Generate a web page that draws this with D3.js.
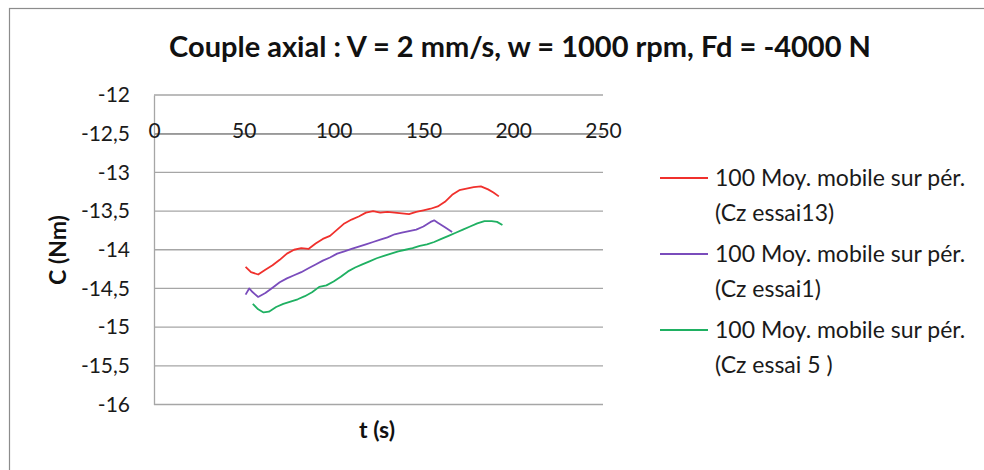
<!DOCTYPE html>
<html><head><meta charset="utf-8">
<script src="https://cdn.jsdelivr.net/npm/d3@7"></script>
<style>html,body{margin:0;padding:0;background:#fff;}svg{display:block;}</style>
</head><body>
<svg id="c" width="984" height="470"></svg>
<script>
const title = "Couple axial : V = 2 mm/s, w = 1000 rpm, Fd = -4000 N";
const xTicks = [0, 50, 100, 150, 200, 250];
const yTicks = [-12, -12.5, -13, -13.5, -14, -14.5, -15, -15.5, -16];
const legendLine1 = ["100 Moy. mobile sur pér.", "100 Moy. mobile sur pér.", "100 Moy. mobile sur pér."];
const legendLine2 = ["(Cz essai13)", "(Cz essai1)", "(Cz essai 5 )"];
const colors = ["#f0302c", "#7a4cbc", "#1fb062"];

const t13 = [51,54,58,62,66,70,74,78,82,86,90,94,98,102,106,110,114,118,122,126,130,134,138,142,146,150,154,158,162,166,170,174,178,182,186,189,192];
const c13 = [-14.22,-14.29,-14.32,-14.26,-14.20,-14.13,-14.05,-14.00,-13.98,-13.99,-13.92,-13.86,-13.82,-13.74,-13.66,-13.61,-13.57,-13.52,-13.50,-13.52,-13.51,-13.52,-13.53,-13.54,-13.51,-13.49,-13.47,-13.44,-13.38,-13.29,-13.23,-13.21,-13.19,-13.18,-13.22,-13.26,-13.31];
const t1 = [51,53,55,58,62,66,70,74,78,82,86,90,94,98,102,106,110,114,118,122,126,130,134,138,142,146,150,154,156,158,162,166];
const c1 = [-14.58,-14.50,-14.55,-14.61,-14.56,-14.49,-14.42,-14.37,-14.33,-14.29,-14.24,-14.19,-14.14,-14.10,-14.05,-14.02,-13.99,-13.96,-13.93,-13.90,-13.87,-13.84,-13.80,-13.78,-13.76,-13.74,-13.70,-13.64,-13.62,-13.65,-13.71,-13.77];
const t5 = [55,58,61,64,68,72,76,80,84,88,92,96,100,104,108,112,116,120,124,128,132,136,140,144,148,152,156,160,164,168,172,176,180,184,188,191,194];
const c5 = [-14.70,-14.77,-14.81,-14.80,-14.74,-14.70,-14.67,-14.64,-14.60,-14.55,-14.48,-14.46,-14.41,-14.35,-14.28,-14.23,-14.19,-14.15,-14.11,-14.08,-14.05,-14.02,-14.00,-13.98,-13.95,-13.93,-13.90,-13.86,-13.82,-13.78,-13.74,-13.70,-13.66,-13.63,-13.63,-13.64,-13.68];

const series = [
  {t: t13, c: c13},
  {t: t1, c: c1},
  {t: t5, c: c5}
];

const font = "Lato, 'Open Sans', sans-serif";
const svg = d3.select("#c");

// chart frame
svg.append("rect").attr("x", 9.5).attr("y", 8.5).attr("width", 1000).attr("height", 500)
  .attr("fill", "none").attr("stroke", "#8c8c8c").attr("stroke-width", 1.2);

const x = d3.scaleLinear().domain([0, 250]).range([154, 603]);
const y = d3.scaleLinear().domain([-16, -12]).range([404.5, 95]);
const fmt = d => String(d).replace(".", ",");

// gridlines
svg.append("g").selectAll("line").data(yTicks).join("line")
  .attr("x1", x(0)).attr("x2", x(250))
  .attr("y1", d => y(d)).attr("y2", d => y(d))
  .attr("stroke", "#a6a6a6").attr("stroke-width", 1.3);

// y axis
const yAxis = svg.append("g").attr("transform", `translate(${x(0)},0)`)
  .call(d3.axisLeft(y).tickValues(yTicks).tickFormat(fmt).tickSize(0).tickPadding(24));
yAxis.select(".domain").attr("stroke", "#a6a6a6").attr("stroke-width", 1.3);
yAxis.selectAll("text").attr("font-family", font).attr("font-size", 21).attr("fill", "#1a1a1a");

// x axis crossing at -12.5
const xAxis = svg.append("g").attr("transform", `translate(0,${y(-12.5)})`)
  .call(d3.axisBottom(x).tickValues(xTicks).tickFormat(d3.format("d")).tickSize(0));
xAxis.select(".domain").attr("stroke", "#8c8c8c").attr("stroke-width", 1.3);
xAxis.selectAll("text").attr("font-family", font).attr("font-size", 21).attr("fill", "#1a1a1a")
  .attr("y", 4).attr("dy", 0);

// lines
const line = d3.line().x(d => x(d[0])).y(d => y(d[1]));
series.forEach((s, i) => {
  svg.append("path").datum(s.t.map((tv, j) => [tv, s.c[j]]))
    .attr("d", line).attr("fill", "none").attr("stroke", colors[i]).attr("stroke-width", 1.8)
    .attr("stroke-linejoin", "round");
});

// title
svg.append("text").attr("x", 520).attr("y", 57).attr("text-anchor", "middle")
  .attr("font-family", font).attr("font-weight", "bold").attr("font-size", 29).attr("fill", "#111").text(title);

// axis titles
svg.append("text").attr("transform", "translate(57.5,250) rotate(-90)").attr("text-anchor", "middle")
  .attr("dy", "0.35em")
  .attr("font-family", font).attr("font-weight", "bold").attr("font-size", 23).attr("fill", "#111").text("C (Nm)");
svg.append("text").attr("x", 377).attr("y", 430).attr("text-anchor", "middle").attr("dy", "0.35em")
  .attr("font-family", font).attr("font-weight", "bold").attr("font-size", 23).attr("fill", "#111").text("t (s)");

// legend
const lg = svg.append("g");
const ly = [178, 254, 330];
legendLine1.forEach((n, i) => {
  lg.append("line").attr("x1", 660).attr("x2", 708).attr("y1", ly[i]).attr("y2", ly[i])
    .attr("stroke", colors[i]).attr("stroke-width", 1.8);
  lg.append("text").attr("x", 715).attr("y", ly[i]).attr("dy", "0.35em")
    .attr("font-family", font).attr("font-size", 23).attr("fill", "#1a1a1a").text(legendLine1[i]);
  lg.append("text").attr("x", 715).attr("y", ly[i] + 35).attr("dy", "0.35em")
    .attr("font-family", font).attr("font-size", 23).attr("fill", "#1a1a1a").text(legendLine2[i]);
});
</script>
</body></html>
